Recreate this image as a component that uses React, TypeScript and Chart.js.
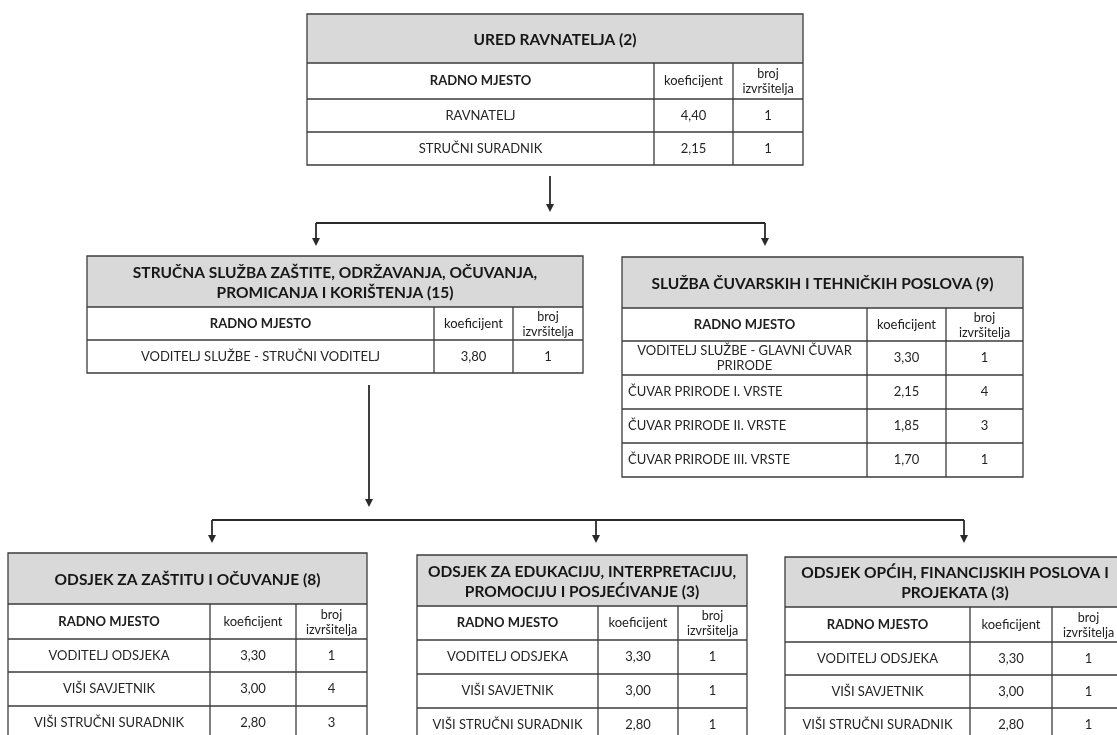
import React, { useEffect, useRef } from "react";
import { Chart, registerables } from "chart.js";

Chart.register(...registerables);

// ---------- DATA ----------
const unitTitles: string[][] = [
  ["URED RAVNATELJA (2)"],
  ["STRUČNA SLUŽBA ZAŠTITE, ODRŽAVANJA, OČUVANJA,", "PROMICANJA I KORIŠTENJA (15)"],
  ["SLUŽBA ČUVARSKIH I TEHNIČKIH POSLOVA (9)"],
  ["ODSJEK ZA ZAŠTITU I OČUVANJE (8)"],
  ["ODSJEK ZA EDUKACIJU, INTERPRETACIJU,", "PROMOCIJU I POSJEĆIVANJE (3)"],
  ["ODSJEK OPĆIH, FINANCIJSKIH POSLOVA I", "PROJEKATA (3)"],
];

const unitJobs: string[][][] = [
  [["RAVNATELJ"], ["STRUČNI SURADNIK"]],
  [["VODITELJ SLUŽBE - STRUČNI VODITELJ"]],
  [
    ["VODITELJ SLUŽBE - GLAVNI ČUVAR", "PRIRODE"],
    ["ČUVAR PRIRODE I. VRSTE"],
    ["ČUVAR PRIRODE II. VRSTE"],
    ["ČUVAR PRIRODE III. VRSTE"],
  ],
  [["VODITELJ ODSJEKA"], ["VIŠI SAVJETNIK"], ["VIŠI STRUČNI SURADNIK"]],
  [["VODITELJ ODSJEKA"], ["VIŠI SAVJETNIK"], ["VIŠI STRUČNI SURADNIK"]],
  [["VODITELJ ODSJEKA"], ["VIŠI SAVJETNIK"], ["VIŠI STRUČNI SURADNIK"]],
];

const unitCoefficients: number[][] = [
  [4.4, 2.15],
  [3.8],
  [3.3, 2.15, 1.85, 1.7],
  [3.3, 3.0, 2.8],
  [3.3, 3.0, 2.8],
  [3.3, 3.0, 2.8],
];

const unitCounts: number[][] = [
  [1, 1],
  [1],
  [1, 4, 3, 1],
  [1, 4, 3],
  [1, 1, 1],
  [1, 1, 1],
];

const headerJob = "RADNO MJESTO";
const headerCoef = "koeficijent";
const headerCount = ["broj", "izvršitelja"];

// ---------- LAYOUT (scale units) ----------
// [left, colSplit1, colSplit2, right]
const boxCols: number[][] = [
  [307, 654, 733, 803],
  [87, 434, 513, 583],
  [622, 867, 946, 1023],
  [8, 210, 296, 367],
  [417, 598, 678, 747],
  [785, 970, 1052, 1125],
];
// [top, titleBottom, headerBottom, ...rowBottoms]
const boxRows: number[][] = [
  [14, 63, 99, 132, 165],
  [256, 307, 340, 373],
  [257, 308, 341, 375, 409, 443, 477],
  [553, 604, 639, 672, 706, 740],
  [555, 606, 640, 674, 708, 742],
  [557, 607, 642, 675, 708, 742],
];
// job text left-aligned rows: [box, row]
const leftAligned: number[][] = [
  [2, 1],
  [2, 2],
  [2, 3],
];
// vertical arrows: [x, yStart, yEnd]
const arrows: number[][] = [
  [550, 176, 212],
  [316, 223, 246],
  [765, 223, 246],
  [369, 385, 507],
  [212, 520, 543],
  [596, 520, 543],
  [964, 520, 543],
];
// horizontal lines: [x1, x2, y]
const hLines: number[][] = [
  [316, 765, 223],
  [212, 964, 520],
];

const FONT = "Lato, 'Open Sans', 'DejaVu Sans', sans-serif";
const fmt = (v: number) => v.toFixed(2).replace(".", ",");

const orgPlugin = {
  id: "orgTables",
  afterDraw(chart: any) {
    const ctx: CanvasRenderingContext2D = chart.ctx;
    const sx = chart.scales.x;
    const sy = chart.scales.y;
    const X = (v: number) => sx.getPixelForValue(v);
    const Y = (v: number) => sy.getPixelForValue(v);

    ctx.save();
    ctx.fillStyle = "#ffffff";
    ctx.fillRect(0, 0, chart.width, chart.height);

    const lineColor = "#3c3c3c";
    const bodyColor = "#252525";

    const drawText = (lines: string[], cx: number, cy: number, font: string, color: string, gap: number, align: CanvasTextAlign = "center") => {
      ctx.font = font;
      ctx.fillStyle = color;
      ctx.textAlign = align;
      ctx.textBaseline = "middle";
      const n = lines.length;
      lines.forEach((t, i) => {
        ctx.fillText(t, cx, cy + (i - (n - 1) / 2) * gap);
      });
    };

    boxCols.forEach((cols, b) => {
      const rows = boxRows[b];
      const [l, c1, c2, r] = cols.map(X);
      const ys = rows.map(Y);
      const top = ys[0];
      const bottom = ys[ys.length - 1];

      // title background
      ctx.fillStyle = "#d9d9d9";
      ctx.fillRect(l, top, r - l, ys[1] - top);

      // grid
      ctx.strokeStyle = lineColor;
      ctx.lineWidth = 1.3;
      ctx.beginPath();
      ctx.rect(l, top, r - l, bottom - top);
      for (let i = 1; i < ys.length - 1; i++) {
        ctx.moveTo(l, ys[i]);
        ctx.lineTo(r, ys[i]);
      }
      ctx.moveTo(c1, ys[1]);
      ctx.lineTo(c1, bottom);
      ctx.moveTo(c2, ys[1]);
      ctx.lineTo(c2, bottom);
      ctx.stroke();

      // title
      drawText(unitTitles[b], (l + r) / 2, (top + ys[1]) / 2 + 1, `bold 15.5px ${FONT}`, "#161616", 20);

      // header
      const hy = (ys[1] + ys[2]) / 2;
      drawText([headerJob], (l + c1) / 2, hy, `bold 13px ${FONT}`, "#202020", 16);
      drawText([headerCoef], (c1 + c2) / 2, hy, `13px ${FONT}`, "#202020", 16);
      drawText(headerCount, (c2 + r) / 2, hy + 0.5, `12.5px ${FONT}`, "#202020", 15);

      // body rows
      unitJobs[b].forEach((job, i) => {
        const ry = (ys[2 + i] + ys[3 + i]) / 2;
        const isLeft = leftAligned.some(([bb, rr]) => bb === b && rr === i);
        if (isLeft) {
          drawText(job, l + 6, ry, `13px ${FONT}`, bodyColor, 15, "left");
        } else {
          drawText(job, (l + c1) / 2, ry, `13px ${FONT}`, bodyColor, 15);
        }
        drawText([fmt(unitCoefficients[b][i])], (c1 + c2) / 2, ry, `13px ${FONT}`, bodyColor, 15);
        drawText([String(unitCounts[b][i])], (c2 + r) / 2, ry, `13px ${FONT}`, bodyColor, 15);
      });
    });

    // connectors
    ctx.strokeStyle = "#2a2a2a";
    ctx.fillStyle = "#2a2a2a";
    ctx.lineWidth = 1.8;
    hLines.forEach(([x1, x2, y]) => {
      ctx.beginPath();
      ctx.moveTo(X(x1), Y(y));
      ctx.lineTo(X(x2), Y(y));
      ctx.stroke();
    });
    arrows.forEach(([x, y1, y2]) => {
      const px = X(x);
      const p1 = Y(y1);
      const p2 = Y(y2);
      ctx.beginPath();
      ctx.moveTo(px, p1);
      ctx.lineTo(px, p2 - 6);
      ctx.stroke();
      ctx.beginPath();
      ctx.moveTo(px - 4, p2 - 8);
      ctx.lineTo(px + 4, p2 - 8);
      ctx.lineTo(px, p2);
      ctx.closePath();
      ctx.fill();
    });

    ctx.restore();
  },
};

export default function App() {
  const canvasRef = useRef<HTMLCanvasElement | null>(null);

  useEffect(() => {
    if (!canvasRef.current) return;
    const chart = new Chart(canvasRef.current, {
      type: "scatter",
      data: { datasets: [{ data: [], pointRadius: 0 }] },
      options: {
        animation: false,
        responsive: false,
        maintainAspectRatio: false,
        layout: { padding: 0 },
        scales: {
          x: { type: "linear", min: 0, max: 1117, display: false },
          y: { type: "linear", min: 0, max: 735, reverse: true, display: false },
        },
        plugins: { legend: { display: false }, tooltip: { enabled: false } },
      },
      plugins: [orgPlugin],
    });
    return () => chart.destroy();
  }, []);

  return (
    <div style={{ position: "fixed", left: 0, top: 0, width: 1117, height: 735, background: "#fff" }}>
      <canvas ref={canvasRef} width={1117} height={735} style={{ display: "block" }} />
    </div>
  );
}
